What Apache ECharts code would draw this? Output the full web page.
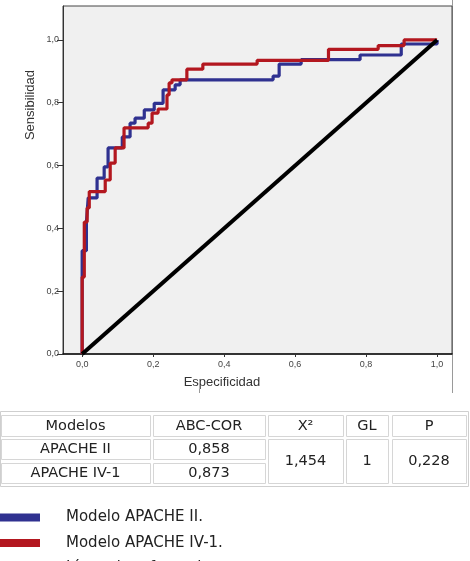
<!DOCTYPE html>
<html>
<head>
<meta charset="utf-8">
<script src="https://cdn.jsdelivr.net/npm/echarts@6/dist/echarts.min.js"></script>
<style>html,body{margin:0;padding:0;background:#fff;}#c{width:470px;height:561px;}</style>
</head>
<body>
<div id="c"></div>
<script>
// ---- data ----
const xTicks = [0, 0.2, 0.4, 0.6, 0.8, 1.0];
const yTicks = [0, 0.2, 0.4, 0.6, 0.8, 1.0];
// step points [1 - especificidad, sensibilidad] (horizontal then vertical)
const apacheII = [[0,0],[0,0.329],[0.012,0.42],[0.017,0.497],[0.042,0.56],[0.062,0.596],[0.073,0.656],[0.113,0.691],[0.135,0.735],[0.149,0.751],[0.175,0.777],[0.203,0.798],[0.228,0.841],[0.262,0.857],[0.276,0.873],[0.538,0.885],[0.555,0.923],[0.617,0.937],[0.783,0.952],[0.899,0.987],[1,1]];
const apacheIV = [[0,0],[0,0.245],[0.006,0.42],[0.014,0.465],[0.02,0.517],[0.065,0.554],[0.079,0.608],[0.093,0.656],[0.118,0.72],[0.186,0.735],[0.197,0.767],[0.214,0.78],[0.239,0.825],[0.245,0.863],[0.253,0.873],[0.295,0.907],[0.340,0.923],[0.493,0.935],[0.694,0.97],[0.834,0.982],[0.907,1.0],[1,1]];
const refLine = [[0,0],[1,1]];
const tableHeader = ['Modelos', 'ABC-COR', 'X²', 'GL', 'P'];
const tableModels = ['APACHE II', 'APACHE IV-1'];
const tableABC = ['0,858', '0,873'];
const tableChi2 = '1,454';
const tableGL = '1';
const tableP = '0,228';
const legendLabels = ['Modelo APACHE II.', 'Modelo APACHE IV-1.', 'Línea de referencia.'];
const xName = 'Especificidad';
const yName = 'Sensibilidad';

const BLUE = '#2f3190', RED = '#b3171f', BLACK = '#000';
const fmt = v => v.toFixed(1).replace('.', ',');

// ---- table graphics ----
const cols = [[1,150],[153,265],[268,343],[346,388],[392,466]];
const rows = [[415,436],[439,459],[463,483]];
const tFont = '14.5px "DejaVu Sans"';
const g = [];
g.push({type:'rect', shape:{x:0.5,y:411.5,width:468,height:75}, style:{fill:'#fff',stroke:'#cfcfcf',lineWidth:1}});
function cell(x0,x1,y0,y1,txt){
  g.push({type:'rect', shape:{x:x0+0.5,y:y0+0.5,width:x1-x0,height:y1-y0}, style:{fill:'#fff',stroke:'#d6d6d6',lineWidth:1}});
  g.push({type:'text', x:(x0+x1)/2, y:(y0+y1)/2+0.5, style:{text:txt, font:tFont, fill:'#222', align:'center', verticalAlign:'middle', textAlign:'center', textVerticalAlign:'middle'}});
}
tableHeader.forEach((h,i)=>cell(cols[i][0],cols[i][1],rows[0][0],rows[0][1],h));
tableModels.forEach((m,i)=>{ cell(cols[0][0],cols[0][1],rows[i+1][0],rows[i+1][1],m); cell(cols[1][0],cols[1][1],rows[i+1][0],rows[i+1][1],tableABC[i]); });
cell(cols[2][0],cols[2][1],rows[1][0],rows[2][1],tableChi2);
cell(cols[3][0],cols[3][1],rows[1][0],rows[2][1],tableGL);
cell(cols[4][0],cols[4][1],rows[1][0],rows[2][1],tableP);

// ---- legend graphics ----
const legColors = [BLUE, RED, BLACK];
const legY = [517.5, 543, 568];
legendLabels.forEach((t,i)=>{
  g.push({type:'rect', shape:{x:0,y:legY[i]-4,width:40,height:8}, style:{fill:legColors[i]}});
  g.push({type:'text', x:66, y:legY[i], style:{text:t, font:'15px "DejaVu Sans"', fill:'#222', align:'left', verticalAlign:'middle', textAlign:'left', textVerticalAlign:'middle'}});
});

// axis names
g.push({type:'text', x:222, y:382, style:{text:xName, font:'13px "Liberation Sans"', fill:'#333', align:'center', verticalAlign:'middle', textAlign:'center', textVerticalAlign:'middle'}});
g.push({type:'text', x:30, y:105, rotation:Math.PI/2, style:{text:yName, font:'13px "Liberation Sans"', fill:'#333', align:'center', verticalAlign:'middle', textAlign:'center', textVerticalAlign:'middle'}});
// frame residue lines
g.push({type:'line', shape:{x1:452.5,y1:0,x2:452.5,y2:393}, style:{stroke:'#9a9a9a',lineWidth:1}, z:-1});
g.push({type:'line', shape:{x1:199.5,y1:389,x2:199.5,y2:393}, style:{stroke:'#9a9a9a',lineWidth:1}});

const chart = echarts.init(document.getElementById('c'), null, {renderer:'canvas'});
chart.setOption({
  animation:false,
  backgroundColor:'#fff',
  grid:{left:63, right:18, top:6, bottom:207, show:true, backgroundColor:'#f0f0f0', borderColor:'#444', borderWidth:1},
  xAxis:{type:'value', min:-0.054, max:1.042,
    axisLine:{show:true, onZero:false, lineStyle:{color:'#111', width:1.5}},
    axisTick:{show:true, length:3, customValues:xTicks, lineStyle:{color:'#333'}},
    axisLabel:{customValues:xTicks, formatter:fmt, color:'#444', fontSize:9, fontFamily:'Liberation Sans', margin:6},
    splitLine:{show:false}},
  yAxis:{type:'value', min:0, max:1.108,
    axisLine:{show:true, onZero:false, lineStyle:{color:'#333', width:1}},
    axisTick:{show:true, length:6, customValues:yTicks, lineStyle:{color:'#333'}},
    axisLabel:{customValues:yTicks, formatter:fmt, color:'#444', fontSize:9, fontFamily:'Liberation Sans', margin:4},
    splitLine:{show:false}},
  graphic:{elements:g},
  series:[
    {name:'APACHE II', type:'line', data:apacheII, step:'end', showSymbol:false, symbol:'none', lineStyle:{color:BLUE, width:3.2}, z:2},
    {name:'APACHE IV-1', type:'line', data:apacheIV, step:'end', showSymbol:false, symbol:'none', lineStyle:{color:RED, width:3.2}, z:3},
    {name:'Referencia', type:'line', data:refLine, showSymbol:false, symbol:'none', lineStyle:{color:BLACK, width:4}, z:4}
  ]
});
</script>
</body>
</html>
